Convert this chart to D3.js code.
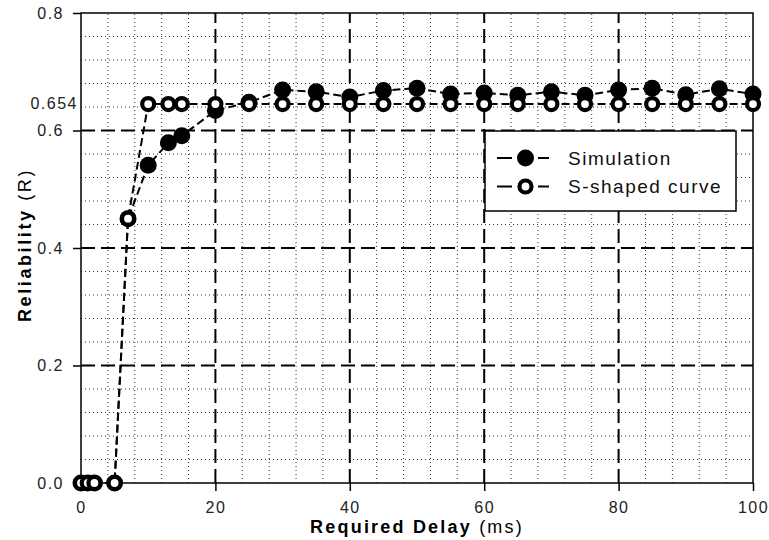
<!DOCTYPE html>
<meta charset="utf-8">
<style>
    body { margin: 0; background: #fff; }
    svg { font-family: "Liberation Sans", Arial, sans-serif; }
</style>
<body>
<div class="container"></div>
<script src="https://cdn.jsdelivr.net/npm/d3@7"></script>
<script>

// data
const delays = [0, 1, 2, 5, 7, 10, 13, 15, 20, 25, 30, 35, 40, 45, 50, 55, 60, 65, 70, 75, 80, 85, 90, 95, 100];
const simulation = [0, 0, 0, 0, 0.45, 0.541, 0.579, 0.591, 0.634, 0.648, 0.669, 0.666, 0.657, 0.668, 0.672, 0.662, 0.664, 0.66, 0.666, 0.66, 0.669, 0.672, 0.661, 0.671, 0.662];
const sCurve = [0, 0, 0, 0, 0.45, 0.645, 0.645, 0.645, 0.645, 0.645, 0.645, 0.645, 0.645, 0.645, 0.645, 0.645, 0.645, 0.645, 0.645, 0.645, 0.645, 0.645, 0.645, 0.645, 0.645];

const xTicks = [0, 20, 40, 60, 80, 100];
const yTicks = [0, 0.2, 0.4, 0.6, 0.8];
const extraYTick = { value: 0.645, label: '0.654' };
const seriesNames = ['Simulation', 'S-shaped curve'];

const width = 769;
const height = 540;

const svg = d3.select('.container')
    .append('svg')
    .attr('width', width)
    .attr('height', height);

const x = d3.scaleLinear().domain([0, 100]).range([81, 753]);
const y = d3.scaleLinear().domain([0, 0.8]).range([483, 13]);

// minor dotted grid
const minorX = d3.range(4, 100, 4).filter(v => v % 20 !== 0);
const minorY = d3.range(1, 20).map(i => i * 0.04).filter((v, i) => (i + 1) % 5 !== 0);

const grid = svg.append('g').attr('class', 'grid');

grid.selectAll('line.minx').data(minorX).enter().append('line')
    .attr('x1', d => x(d)).attr('x2', d => x(d))
    .attr('y1', y(0)).attr('y2', y(0.8))
    .style('stroke', '#333').style('stroke-width', 1).style('stroke-dasharray', '1,3');

grid.selectAll('line.miny').data(minorY).enter().append('line')
    .attr('x1', x(0)).attr('x2', x(100))
    .attr('y1', d => y(d)).attr('y2', d => y(d))
    .style('stroke', '#333').style('stroke-width', 1).style('stroke-dasharray', '1,3');

// major dashed grid
grid.selectAll('line.majx').data([20, 40, 60, 80]).enter().append('line')
    .attr('x1', d => x(d)).attr('x2', d => x(d))
    .attr('y1', y(0)).attr('y2', y(0.8))
    .style('stroke', '#000').style('stroke-width', 2).style('stroke-dasharray', '14,6');

grid.selectAll('line.majy').data([0.2, 0.4, 0.6]).enter().append('line')
    .attr('x1', x(0)).attr('x2', x(100))
    .attr('y1', d => y(d)).attr('y2', d => y(d))
    .style('stroke', '#000').style('stroke-width', 2).style('stroke-dasharray', '14,6');

// frame
svg.append('rect')
    .attr('x', x(0)).attr('y', y(0.8))
    .attr('width', x(100) - x(0)).attr('height', y(0) - y(0.8))
    .style('fill', 'none').style('stroke', '#000').style('stroke-width', 1.5);

// axes
const xAxis = svg.append('g')
    .attr('transform', `translate(0,${y(0)})`)
    .call(d3.axisBottom(x).tickValues(xTicks).tickSize(8).tickPadding(11).tickFormat(d3.format('d')));

const yAxis = svg.append('g')
    .attr('transform', `translate(${x(0)},0)`)
    .call(d3.axisLeft(y).tickValues(yTicks).tickSize(8).tickPadding(9).tickFormat(d3.format('.1f')));

[xAxis, yAxis].forEach(a => {
    a.select('.domain').remove();
    a.selectAll('line').style('stroke', '#000').style('stroke-width', 1.5);
    a.selectAll('text')
        .style('font-size', '16px')
        .style('letter-spacing', '1.5px')
        .style('fill', '#222');
});

svg.append('text')
    .attr('x', x(0) - 3).attr('y', y(extraYTick.value))
    .attr('dy', '0.32em')
    .attr('text-anchor', 'end')
    .style('font-size', '16px')
    .style('letter-spacing', '1.5px')
    .style('fill', '#222')
    .text(extraYTick.label);

// axis titles
const xTitle = svg.append('text')
    .attr('x', 417).attr('y', 533)
    .attr('text-anchor', 'middle')
    .style('font-size', '18px')
    .style('letter-spacing', '2.2px');
xTitle.append('tspan').style('font-weight', 'bold').text('Required Delay');
xTitle.append('tspan').text(' (ms)');

const yTitle = svg.append('text')
    .attr('transform', 'translate(31,245) rotate(-90)')
    .attr('text-anchor', 'middle')
    .style('font-size', '18px')
    .style('letter-spacing', '2.6px');
yTitle.append('tspan').style('font-weight', 'bold').text('Reliability');
yTitle.append('tspan').text(' (R)');

// series
const line = d3.line().x(d => x(d[0])).y(d => y(d[1]));

const simData = delays.map((d, i) => [d, simulation[i]]);
const sData = delays.map((d, i) => [d, sCurve[i]]);

const renderSeries = (data, open) => {
    const g = svg.append('g');
    g.append('path')
        .datum(data)
        .attr('d', line)
        .style('fill', 'none')
        .style('stroke', '#000')
        .style('stroke-width', 2)
        .style('stroke-dasharray', '8,4');
    g.selectAll('circle').data(data).enter().append('circle')
        .attr('cx', d => x(d[0]))
        .attr('cy', d => y(d[1]))
        .attr('r', open ? 6 : 8.5)
        .style('fill', open ? '#fff' : '#000')
        .style('stroke', '#000')
        .style('stroke-width', open ? 4.2 : 0);
};

renderSeries(simData, false);
renderSeries(sData, true);

// legend
const legend = svg.append('g');
legend.append('rect')
    .attr('x', 485).attr('y', 131)
    .attr('width', 251).attr('height', 80)
    .style('fill', '#fff').style('stroke', '#000').style('stroke-width', 1.5);

seriesNames.forEach((name, i) => {
    const ly = 158 + i * 28.5;
    const open = i === 1;
    [[497, 512], [538, 549]].forEach(s => {
        legend.append('line')
            .attr('x1', s[0]).attr('x2', s[1])
            .attr('y1', ly).attr('y2', ly)
            .style('stroke', '#000').style('stroke-width', 2);
    });
    legend.append('circle')
        .attr('cx', 525.5).attr('cy', ly)
        .attr('r', open ? 6 : 8.5)
        .style('fill', open ? '#fff' : '#000')
        .style('stroke', '#000')
        .style('stroke-width', open ? 4.2 : 0);
    legend.append('text')
        .attr('x', 568).attr('y', ly)
        .attr('dy', '0.35em')
        .style('font-size', '19px')
        .style('letter-spacing', '1.5px')
        .style('fill', '#111')
        .text(name);
});

</script>
</body>
